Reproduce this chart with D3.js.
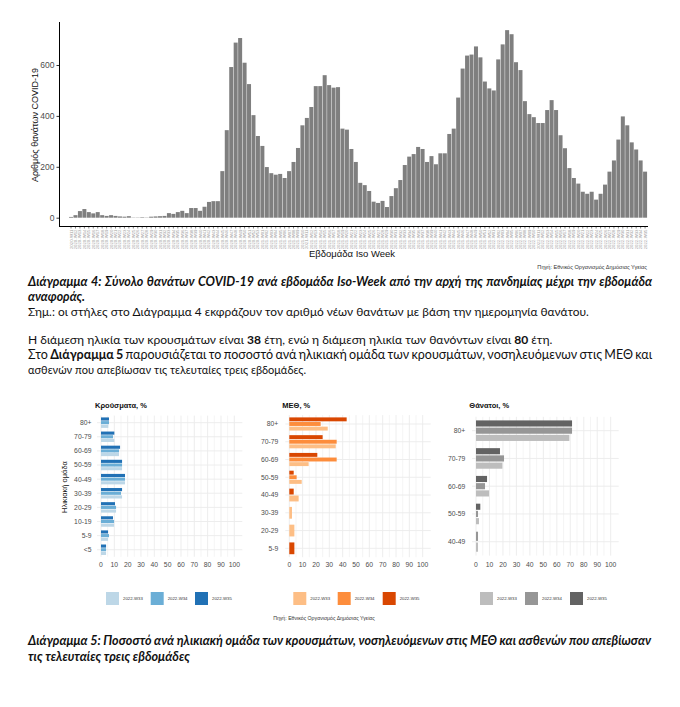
<!DOCTYPE html>
<html><head><meta charset="utf-8">
<script src="https://cdn.jsdelivr.net/npm/d3@7"></script>
<style>body{margin:0;background:#fff}</style>
</head><body>
<svg id="c" width="680" height="707"></svg>
<script>
// ---------- DATA ----------
const weeks = [
"2020-W11","2020-W12","2020-W13","2020-W14","2020-W15","2020-W16","2020-W17","2020-W18","2020-W19","2020-W20",
"2020-W21","2020-W22","2020-W23","2020-W24","2020-W25","2020-W26","2020-W27","2020-W28","2020-W29","2020-W30",
"2020-W31","2020-W32","2020-W33","2020-W34","2020-W35","2020-W36","2020-W37","2020-W38","2020-W39","2020-W40",
"2020-W41","2020-W42","2020-W43","2020-W44","2020-W45","2020-W46","2020-W47","2020-W48","2020-W49","2020-W50",
"2020-W51","2020-W52","2020-W53",
"2021-W01","2021-W02","2021-W03","2021-W04","2021-W05","2021-W06","2021-W07","2021-W08","2021-W09","2021-W10",
"2021-W11","2021-W12","2021-W13","2021-W14","2021-W15","2021-W16","2021-W17","2021-W18","2021-W19","2021-W20",
"2021-W21","2021-W22","2021-W23","2021-W24","2021-W25","2021-W26","2021-W27","2021-W28","2021-W29","2021-W30",
"2021-W31","2021-W32","2021-W33","2021-W34","2021-W35","2021-W36","2021-W37","2021-W38","2021-W39","2021-W40",
"2021-W41","2021-W42","2021-W43","2021-W44","2021-W45","2021-W46","2021-W47","2021-W48","2021-W49","2021-W50",
"2021-W51","2021-W52",
"2022-W01","2022-W02","2022-W03","2022-W04","2022-W05","2022-W06","2022-W07","2022-W08","2022-W09","2022-W10",
"2022-W11","2022-W12","2022-W13","2022-W14","2022-W15","2022-W16","2022-W17","2022-W18","2022-W19","2022-W20",
"2022-W21","2022-W22","2022-W23","2022-W24","2022-W25","2022-W26","2022-W27","2022-W28","2022-W29","2022-W30",
"2022-W31","2022-W32","2022-W33","2022-W34","2022-W35"];
const deaths = [
3,10,26,34,22,17,22,10,7,10,7,5,4,6,1,1,2,1,4,5,6,7,
18,15,22,27,18,38,38,27,43,62,65,65,
183,344,592,688,706,609,525,403,321,282,199,175,169,172,156,183,219,274,363,392,435,517,517,560,521,511,513,
350,346,270,219,137,128,105,63,58,66,
42,85,116,148,207,240,250,278,270,219,
242,210,253,253,329,350,472,586,637,641,
673,630,535,508,500,622,681,737,721,611,
580,458,407,395,372,372,423,462,423,324,
273,195,156,134,102,94,102,71,94,130,
181,225,307,398,363,296,268,225,181];
const deathTicks = [0,200,400,600];
const pctTicks = [0,10,20,30,40,50,60,70,80,90,100];
const pctGrid = [0,5,10,15,20,25,30,35,40,45,50,55,60,65,70,75,80,85,90,95,100];
const legendLabels = ["2022-W33","2022-W34","2022-W35"];

const casesAges = ["80+","70-79","60-69","50-59","40-49","30-39","20-29","10-19","5-9","<5"];
const casesW33 = [5.5,10,13.5,15.8,18,15.8,11.3,9.8,5.3,3.8];
const casesW34 = [6,9,13.5,15.8,18,15,11.3,9.8,6,3.8];
const casesW35 = [6,10,14.3,15.8,18,15.8,10.5,9,5.3,3.8];

const icuAges = ["80+","70-79","60-69","50-59","40-49","30-39","20-29","5-9"];
const icuW33 = [28.8,34.8,14.5,9.3,7,2,3.8,null];
const icuW34 = [23.5,35.5,35.5,5.5,null,null,null,null];
const icuW35 = [43,25,21,3.3,3.3,null,null,3.8];

const deathAges = ["80+","70-79","60-69","50-59","40-49"];
const deathW33 = [69.3,19.6,9.7,2.2,1.5];
const deathW34 = [71.3,20.8,6.7,1.5,1.5];
const deathW35 = [71.3,17.8,8.2,3.2,null];

// ---------- DRAW ----------
const svg = d3.select("#c");
svg.append("rect").attr("width",680).attr("height",707).attr("fill","#fff");
const SANS = "'Liberation Sans', Arial, sans-serif";
const DOC = "Lato, 'Open Sans', sans-serif";

// Top chart
const topG = svg.append("g");
const x = d3.scaleBand().domain(weeks).range([68.8,647.3]).paddingInner(0.1).paddingOuter(0.05);
const y = d3.scaleLinear().domain([0,600]).range([217.7,65]);

topG.selectAll("rect.bar").data(deaths).join("rect").attr("class","bar")
  .attr("x",(d,i)=>x(weeks[i])).attr("width",x.bandwidth())
  .attr("y",d=>y(d)).attr("height",d=>y(0)-y(d)).attr("fill","#7f7f7f");

const ya = topG.append("g").attr("transform","translate(59.5,0)")
  .call(d3.axisLeft(y).tickValues(deathTicks).tickSize(3).tickPadding(2));
ya.select(".domain").remove();
ya.selectAll("text").attr("font-size",8.5).attr("fill","#4d4d4d").attr("font-family",SANS);
ya.selectAll("line").attr("stroke","#333");

const xa = topG.append("g").attr("transform","translate(0,226.5)")
  .call(d3.axisBottom(x).tickSize(2));
xa.select(".domain").remove();
xa.selectAll("line").attr("stroke","#333").attr("stroke-width",0.6);
xa.selectAll("text").attr("transform","rotate(-90)").attr("text-anchor","end")
  .attr("x",-3).attr("y",0).attr("dy","0.35em")
  .attr("font-size",4.3).attr("fill","#9a9a9a").attr("font-family",SANS);

topG.append("line").attr("x1",59.5).attr("x2",59.5).attr("y1",22).attr("y2",227).attr("stroke","#000");
topG.append("line").attr("x1",59.5).attr("x2",648).attr("y1",226.5).attr("y2",226.5).attr("stroke","#000");

topG.append("text").attr("transform","translate(38,125) rotate(-90)").attr("text-anchor","middle")
  .attr("font-size",9).attr("font-family",SANS).attr("fill","#111").text("Αριθμός θανάτων COVID-19");
topG.append("text").attr("x",352).attr("y",257).attr("text-anchor","middle")
  .attr("font-size",9.5).attr("font-family",SANS).attr("fill","#111").text("Εβδομάδα Iso Week");
topG.append("text").attr("x",647).attr("y",268.5).attr("text-anchor","end")
  .attr("font-size",5.6).attr("font-family",SANS).attr("fill","#333").text("Πηγή: Εθνικός Οργανισμός Δημόσιας Υγείας");

// Document text: justified lines use word-spacing, others fit by font size
function docLine(parts, yb, width, opts={}) {
  const size = opts.size||12.5;
  const t = svg.append("text").attr("x",28).attr("y",yb)
    .attr("font-family",DOC).attr("font-size",size).attr("fill","#111")
    .attr("font-style",opts.italic?"italic":"normal").attr("font-weight",opts.bold?"bold":"normal");
  parts.forEach(p=>{
    const s = t.append("tspan").text(p[0]);
    if (p[1]) s.attr("font-weight","bold");
  });
  const len = t.node().getComputedTextLength();
  if (opts.just) {
    const spaces = parts.map(p=>p[0]).join("").split(" ").length-1;
    t.attr("word-spacing",(width-len)/spaces);
  } else {
    const s2 = Math.max(11, Math.min(14, size*width/len));
    t.attr("font-size",s2);
  }
  return t;
}
docLine([["Διάγραμμα 4: Σύνολο θανάτων COVID-19 ανά εβδομάδα Iso-Week από την αρχή της πανδημίας μέχρι την εβδομάδα"]],286,624,{bold:true,italic:true,just:true});
docLine([["αναφοράς."]],301,57,{bold:true,italic:true});
docLine([["Σημ.: οι στήλες στο Διάγραμμα 4 εκφράζουν τον αριθμό νέων θανάτων με βάση την ημερομηνία θανάτου."]],316,562);
docLine([["Η διάμεση ηλικία των κρουσμάτων είναι "],["38",true],[" έτη, ενώ η διάμεση ηλικία των θανόντων είναι "],["80",true],[" έτη."]],344,525);
docLine([["Στο "],["Διάγραμμα 5",true],[" παρουσιάζεται το ποσοστό ανά ηλικιακή ομάδα των κρουσμάτων, νοσηλευόμενων στις ΜΕΘ και"]],359,624,{just:true});
docLine([["ασθενών που απεβίωσαν τις τελευταίες τρεις εβδομάδες."]],374,277);
docLine([["Διάγραμμα 5: Ποσοστό ανά ηλικιακή ομάδα των κρουσμάτων, νοσηλευόμενων στις ΜΕΘ και ασθενών που απεβίωσαν"]],645,623,{bold:true,italic:true,just:true});
docLine([["τις τελευταίες τρεις εβδομάδες"]],661,162,{bold:true,italic:true});

// Panels
function panel(cfg, ages, w33, w34, w35, colors) {
  const g = svg.append("g");
  const xs = d3.scaleLinear().domain([0,100]).range([cfg.x0, cfg.x100]);
  const ys = d3.scaleBand().domain(ages).range([cfg.yTop, cfg.yBot]);
  const left = cfg.x0-4, right = cfg.x100+8, gTop = cfg.yTop, gBot = cfg.yBot;
  g.selectAll("line.v").data(pctGrid).join("line")
    .attr("x1",d=>xs(d)).attr("x2",d=>xs(d)).attr("y1",gTop).attr("y2",gBot)
    .attr("stroke","#ebebeb").attr("stroke-width",d=>d%10===0?0.9:0.5);
  g.selectAll("line.h").data(ages).join("line")
    .attr("x1",left).attr("x2",right).attr("y1",d=>ys(d)+ys.bandwidth()/2).attr("y2",d=>ys(d)+ys.bandwidth()/2)
    .attr("stroke","#ebebeb").attr("stroke-width",0.9);
  const series = [w35, w34, w33];
  const cols = [colors[2], colors[1], colors[0]];
  ages.forEach((a,i)=>{
    const present = [0,1,2].filter(k=>series[k][i]!=null);
    const step = ys.bandwidth();
    const G = step*0.78, slot = G/present.length;
    const gt = ys(a)+step/2-G/2;
    present.forEach((k,j)=>{
      const th = slot*0.85;
      g.append("rect").attr("x",xs(0)).attr("width",xs(series[k][i])-xs(0))
        .attr("y",gt+j*slot+(slot-th)/2).attr("height",th).attr("fill",cols[k]);
    });
  });
  g.selectAll("text.yl").data(ages).join("text")
    .attr("x",cfg.labX).attr("y",d=>ys(d)+ys.bandwidth()/2).attr("dy","0.35em").attr("text-anchor","end")
    .attr("font-size",6.8).attr("font-family",SANS).attr("fill","#4d4d4d").text(d=>d);
  g.selectAll("text.xl").data(pctTicks).join("text")
    .attr("x",d=>xs(d)).attr("y",567).attr("text-anchor","middle")
    .attr("font-size",6.8).attr("font-family",SANS).attr("fill","#4d4d4d").text(d=>d);
  g.append("text").attr("x",cfg.titleX).attr("y",408).attr("font-size",7.5).attr("font-weight","bold")
    .attr("font-family",SANS).attr("fill","#111").text(cfg.title);
  cfg.legX.forEach((lx,k)=>{
    g.append("rect").attr("x",lx).attr("y",592).attr("width",13).attr("height",13).attr("fill",colors[k]);
    g.append("text").attr("x",lx+17).attr("y",600).attr("font-size",4.3).attr("font-family",SANS)
      .attr("fill","#333").text(legendLabels[k]);
  });
}
panel({x0:101,x100:234.3,yTop:415.6,yBot:556.8,labX:91.5,titleX:95,title:"Κρούσματα, %",legX:[106,150.7,195]},
  casesAges, casesW33, casesW34, casesW35, ["#bdd7e7","#6baed6","#2171b5"]);
panel({x0:289.3,x100:422.7,yTop:415.1,yBot:557.2,labX:278.3,titleX:282.3,title:"ΜΕΘ, %",legX:[293.3,337.7,382.7]},
  icuAges, icuW33, icuW34, icuW35, ["#fdbe85","#fd8d3c","#d94701"]);
panel({x0:476,x100:610.7,yTop:416.8,yBot:555.6,labX:465.3,titleX:469.3,title:"Θάνατοι, %",legX:[480,525,570]},
  deathAges, deathW33, deathW34, deathW35, ["#bdbdbd","#969696","#636363"]);

svg.append("text").attr("transform","translate(67,487) rotate(-90)").attr("text-anchor","middle")
  .attr("font-size",7.5).attr("font-family",SANS).attr("fill","#111").text("Ηλικιακή ομάδα");
svg.append("text").attr("x",324).attr("y",620).attr("text-anchor","middle")
  .attr("font-size",5.2).attr("font-family",SANS).attr("fill","#333").text("Πηγή: Εθνικός Οργανισμός Δημόσιας Υγείας");
</script>
</body></html>
